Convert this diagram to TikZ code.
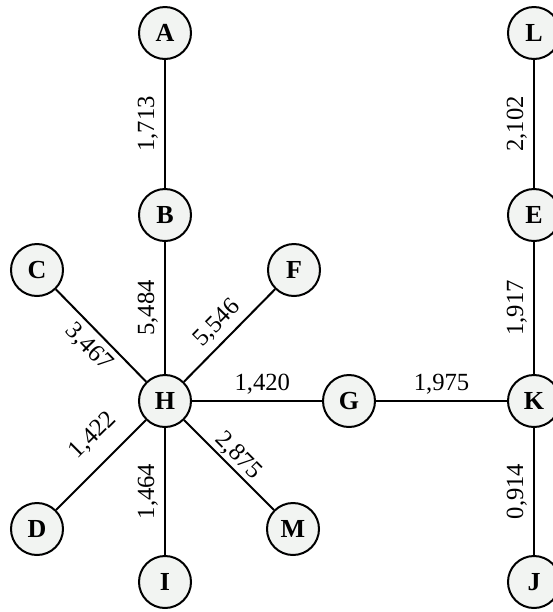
\documentclass[tikz,border=0pt]{standalone}
\usepackage{fontspec}
\setmainfont{Liberation Serif}
\definecolor{nodefill}{RGB}{242,244,242}
\begin{document}
\begin{tikzpicture}[x=0.75pt,y=-0.75pt,
  vtx/.style={circle,draw,line width=1.5pt,fill=nodefill,minimum size=39pt,inner sep=0pt,font=\fontsize{19.5}{22}\selectfont\bfseries},
  edge/.style={line width=1.5pt},
  lab/.style={midway,sloped,font=\fontsize{18.5}{21}\selectfont,inner sep=4.5pt}]
\useasboundingbox (0,0) rectangle (553,612);
\clip (0,0) rectangle (553,612);
\node[vtx] (A) at (165,33) {A};
\node[vtx] (B) at (165,215) {B};
\node[vtx] (C) at (37,270) {C};
\node[vtx] (F) at (294,270) {F};
\node[vtx] (H) at (165,401) {H};
\node[vtx] (G) at (349,401) {G};
\node[vtx] (K) at (534,401) {K};
\node[vtx] (L) at (534,33) {L};
\node[vtx] (E) at (534,215) {E};
\node[vtx] (D) at (37,529) {D};
\node[vtx] (M) at (293,529) {M};
\node[vtx] (I) at (165,582) {I};
\node[vtx] (J) at (534,582) {J};
\draw[edge] (B) -- node[lab,above] {1,713} (A);
\draw[edge] (H) -- node[lab,above] {5,484} (B);
\draw[edge] (C) -- node[lab,below] {3,467} (H);
\draw[edge] (H) -- node[lab,above] {5,546} (F);
\draw[edge] (H) -- node[lab,above,xshift=4pt] {1,420} (G);
\draw[edge] (G) -- node[lab,above] {1,975} (K);
\draw[edge] (D) -- node[lab,pos=0.62,above=7pt] {1,422} (H);
\draw[edge] (I) -- node[lab,above] {1,464} (H);
\draw[edge] (H) -- node[lab,above,inner sep=1.5pt] {2,875} (M);
\draw[edge] (E) -- node[lab,above] {2,102} (L);
\draw[edge] (K) -- node[lab,above] {1,917} (E);
\draw[edge] (J) -- node[lab,above] {0,914} (K);
\end{tikzpicture}
\end{document}
